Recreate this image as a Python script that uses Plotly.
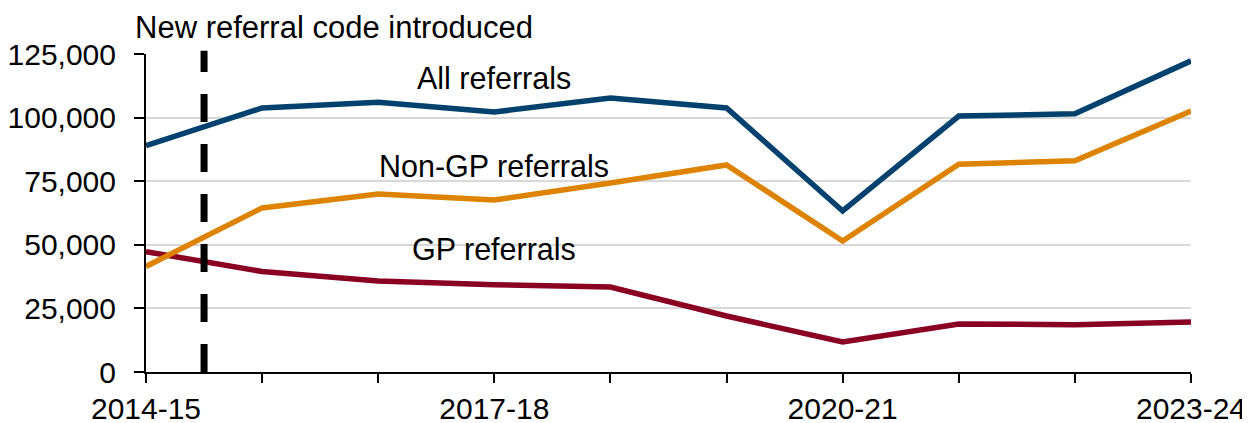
import plotly.graph_objects as go

years = ["2014-15", "2015-16", "2016-17", "2017-18", "2018-19",
         "2019-20", "2020-21", "2021-22", "2022-23", "2023-24"]
all_referrals = [89000, 103800, 106000, 102200, 107700, 103800, 63300, 100600, 101500, 122300]
non_gp_referrals = [41500, 64500, 70000, 67600, 74300, 81400, 51500, 81700, 83000, 102600]
gp_referrals = [47300, 39500, 35800, 34300, 33400, 22000, 11800, 18900, 18600, 19700]
shown_labels = ["2014-15", "2017-18", "2020-21", "2023-24"]
y_ticks = [0, 25000, 50000, 75000, 100000, 125000]

FONT = "Liberation Sans, Arial, sans-serif"
FS = 30
BLUE = "#00416D"
ORANGE = "#DD8300"
RED = "#8A0022"

fig = go.Figure()
for vals, col, name in [(gp_referrals, RED, "GP referrals"),
                        (non_gp_referrals, ORANGE, "Non-GP referrals"),
                        (all_referrals, BLUE, "All referrals")]:
    fig.add_trace(go.Scatter(x=years, y=vals, mode="lines", name=name,
                             line=dict(color=col, width=5.5), showlegend=False,
                             hoverinfo="skip"))

# dashed vertical line between 2014-15 and 2015-16
fig.add_shape(type="line", xref="x", yref="paper", x0=0.5, x1=0.5, y0=0, y1=1.01,
              line=dict(color="black", width=7, dash="28px,22px"), layer="above")

fig.add_annotation(x=-0.012, y=1.083, xref="paper", yref="paper",
                   text="New referral code introduced", xanchor="left", yanchor="middle",
                   showarrow=False, font=dict(family=FONT, size=31, color="black"))
for text, yv in [("All referrals", 115500), ("Non-GP referrals", 80800), ("GP referrals", 48200)]:
    fig.add_annotation(x=3, y=yv, xref="x", yref="y", text=text, xanchor="center",
                       yanchor="middle", showarrow=False,
                       font=dict(family=FONT, size=30.5, color="black"))

fig.update_layout(
    width=1250, height=423,
    margin=dict(l=138, r=67, t=46, b=59, pad=0, autoexpand=False),
    plot_bgcolor="white", paper_bgcolor="white",
    font=dict(family=FONT, size=FS, color="black"),
)
fig.update_xaxes(
    type="category", range=[0, 9], automargin=False,
    tickmode="array", tickvals=years,
    ticktext=[y if y in shown_labels else "" for y in years],
    ticks="outside", ticklen=9, tickwidth=2, tickcolor="black",
    showline=True, linecolor="black", linewidth=2,
    showgrid=False, zeroline=False,
    tickfont=dict(family=FONT, size=FS, color="black"),
)
fig.update_yaxes(
    range=[0, 125000], tickmode="array", tickvals=y_ticks, automargin=False,
    tickformat=",d",
    ticks="outside", ticklen=10, tickwidth=2, tickcolor="black",
    showline=True, linecolor="black", linewidth=2,
    showgrid=True, gridcolor="#D9D9D9", gridwidth=2,
    zeroline=False, ticklabelstandoff=12,
    tickfont=dict(family=FONT, size=FS, color="black"),
)

fig.write_html("out.html")
